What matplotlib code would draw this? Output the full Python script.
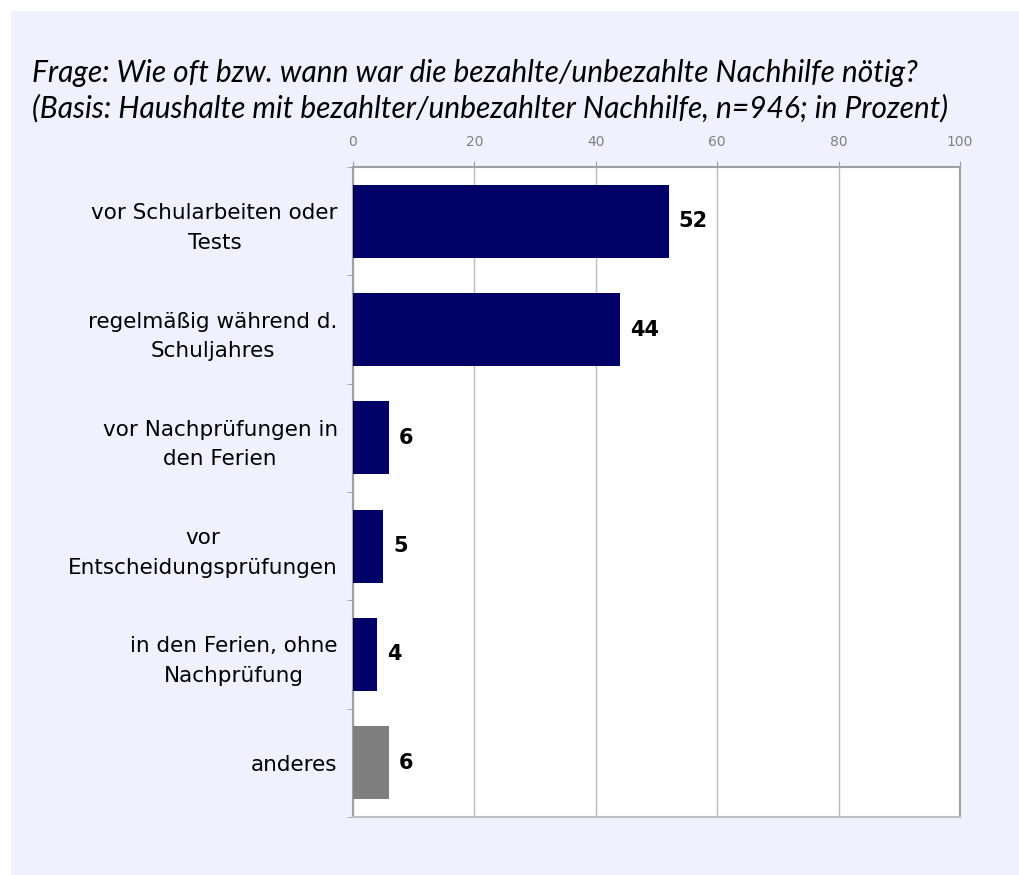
import matplotlib
matplotlib.use("Agg")
import matplotlib.pyplot as plt
import numpy as np

categories = ["vor Schularbeiten oder\nTests", "regelmäßig während d.\nSchuljahres",
              "vor Nachprüfungen in\nden Ferien", "vor\nEntscheidungsprüfungen",
              "in den Ferien, ohne\nNachprüfung", "anderes"]
values = [52, 44, 6, 5, 4, 6]
colors = ["#000066", "#000066", "#000066", "#000066", "#000066", "#7f7f7f"]
xticks = [0, 20, 40, 60, 80, 100]

bg = "#F0F0FE"
fig = plt.figure(figsize=(10.2, 8.75), dpi=100)
fig.patch.set_facecolor("white")
fig.add_artist(plt.Rectangle((11/1020, 0), 1, 1 - 11/875, transform=fig.transFigure,
                             facecolor=bg, edgecolor="none", zorder=-10))

ax = fig.add_axes([353/1020, 1 - 817/875, (960-353)/1020, (817-167)/875])
ax.set_facecolor("white")
y = np.arange(len(categories))
ax.barh(y, values, height=0.675, color=colors, zorder=3)
ax.set_xlim(0, 100)
ax.set_ylim(len(categories) - 0.5, -0.5)

for yi, v in zip(y, values):
    ax.text(v + 1.6, yi, str(v), va="center", ha="left", fontsize=15,
            fontweight="bold", family="DejaVu Sans", color="black", zorder=4)

ax.xaxis.tick_top()
ax.set_xticks(xticks)
ax.set_xticklabels([str(t) for t in xticks], fontsize=10, color="#808080")
ax.tick_params(axis="x", which="major", length=4, color="#a0a0a0", pad=9)
ax.grid(axis="x", color="#bcbcbc", linewidth=1, zorder=0)

ax.set_yticks(y)
ax.set_yticklabels(categories, fontsize=15.5, color="black", ha="right",
                   multialignment="center", family="DejaVu Sans", linespacing=1.6)
ax.tick_params(axis="y", which="major", length=0, pad=11)
ax.set_yticks(np.arange(-0.5, len(categories), 1.0), minor=True)
ax.tick_params(axis="y", which="minor", length=4, color="#a0a0a0")

for s in ["top", "left", "right"]:
    ax.spines[s].set_color("#a0a0a0")
    ax.spines[s].set_linewidth(1.5)
ax.spines["bottom"].set_color("#c0c0c0")
ax.spines["bottom"].set_linewidth(1.5)

fig.text(32/1020, 1 - 82/875, "Frage: Wie oft bzw. wann war die bezahlte/unbezahlte Nachhilfe nötig?",
         fontsize=21.5, style="italic", family="Lato", color="black", va="baseline")
fig.text(32/1020, 1 - 117/875, "(Basis: Haushalte mit bezahlter/unbezahlter Nachhilfe, n=946; in Prozent)",
         fontsize=21.5, style="italic", family="Lato", color="black", va="baseline")

fig.savefig("out.png", dpi=100, facecolor=fig.get_facecolor())
